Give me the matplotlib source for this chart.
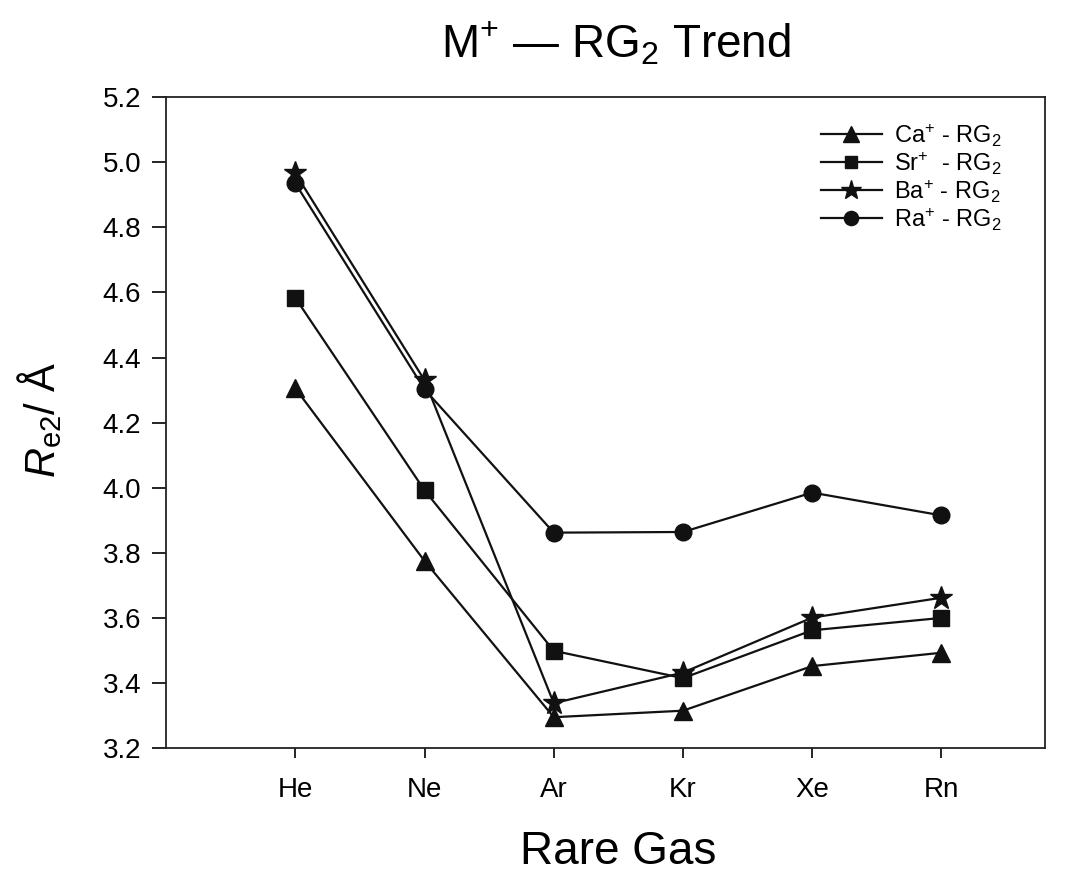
import numpy as np
import matplotlib
matplotlib.use("Agg")
import matplotlib.pyplot as plt

plt.rcParams['font.family'] = ['Liberation Sans', 'DejaVu Sans']
plt.rcParams['mathtext.fontset'] = 'custom'
plt.rcParams['mathtext.rm'] = 'Liberation Sans'
plt.rcParams['mathtext.it'] = 'Liberation Sans:italic'
plt.rcParams['mathtext.bf'] = 'Liberation Sans:bold'

# Data
gases = ['He', 'Ne', 'Ar', 'Kr', 'Xe', 'Rn']
ca = [4.305, 3.775, 3.295, 3.315, 3.452, 3.493]
sr = [4.583, 3.992, 3.499, 3.415, 3.562, 3.600]
ba = [4.966, 4.330, 3.338, 3.432, 3.601, 3.662]
ra = [4.935, 4.302, 3.862, 3.864, 3.985, 3.915]

labels = [r'Ca$^{+}$ - RG$_{2}$', r'Sr$^{+}$  - RG$_{2}$',
          r'Ba$^{+}$ - RG$_{2}$', r'Ra$^{+}$ - RG$_{2}$']
markers = ['^', 's', '*', 'o']
sizes = [13, 11, 17, 12]

x = np.arange(1, len(gases) + 1)
col = '#111111'

fig = plt.figure(figsize=(10.65, 8.75), dpi=100)
ax = fig.add_axes([0.156, 0.145, 0.825, 0.744])

for y, m, s, lab in zip([ca, sr, ba, ra], markers, sizes, labels):
    ax.plot(x, y, color=col, lw=1.6, marker=m, markersize=s, label=lab)

ax.set_xlim(0, 6.8)
ax.set_ylim(3.2, 5.2)
ax.set_xticks(x)
ax.set_xticklabels(gases)
ax.set_yticks(np.arange(3.2, 5.21, 0.2))
ax.set_yticklabels([f'{v:.1f}' for v in np.arange(3.2, 5.21, 0.2)])
ax.tick_params(axis='y', direction='out', length=10, width=1.2, labelsize=20, pad=8)
ax.tick_params(axis='x', direction='out', length=7, width=1.2, labelsize=20, pad=14)
for sp in ax.spines.values():
    sp.set_linewidth(1.3)
    sp.set_color('#222222')

fig.text(0.578, 0.934, r'M$^{+}$ — RG$_{2}$ Trend', fontsize=33,
         ha='center', va='baseline')
fig.text(0.58, 0.012, 'Rare Gas', fontsize=33, ha='center', va='baseline')
fig.text(0.037, 0.52, r'$\mathit{R}_{\mathrm{e2}}$/ Å', fontsize=30,
         rotation=90, ha='center', va='center')

ax.legend(loc='upper left', bbox_to_anchor=(0.745, 0.962), frameon=False,
          fontsize=17, handlelength=2.6, handletextpad=0.5, labelspacing=0.05,
          borderpad=0, borderaxespad=0, markerscale=0.85)

plt.savefig('out.png', dpi=100)
